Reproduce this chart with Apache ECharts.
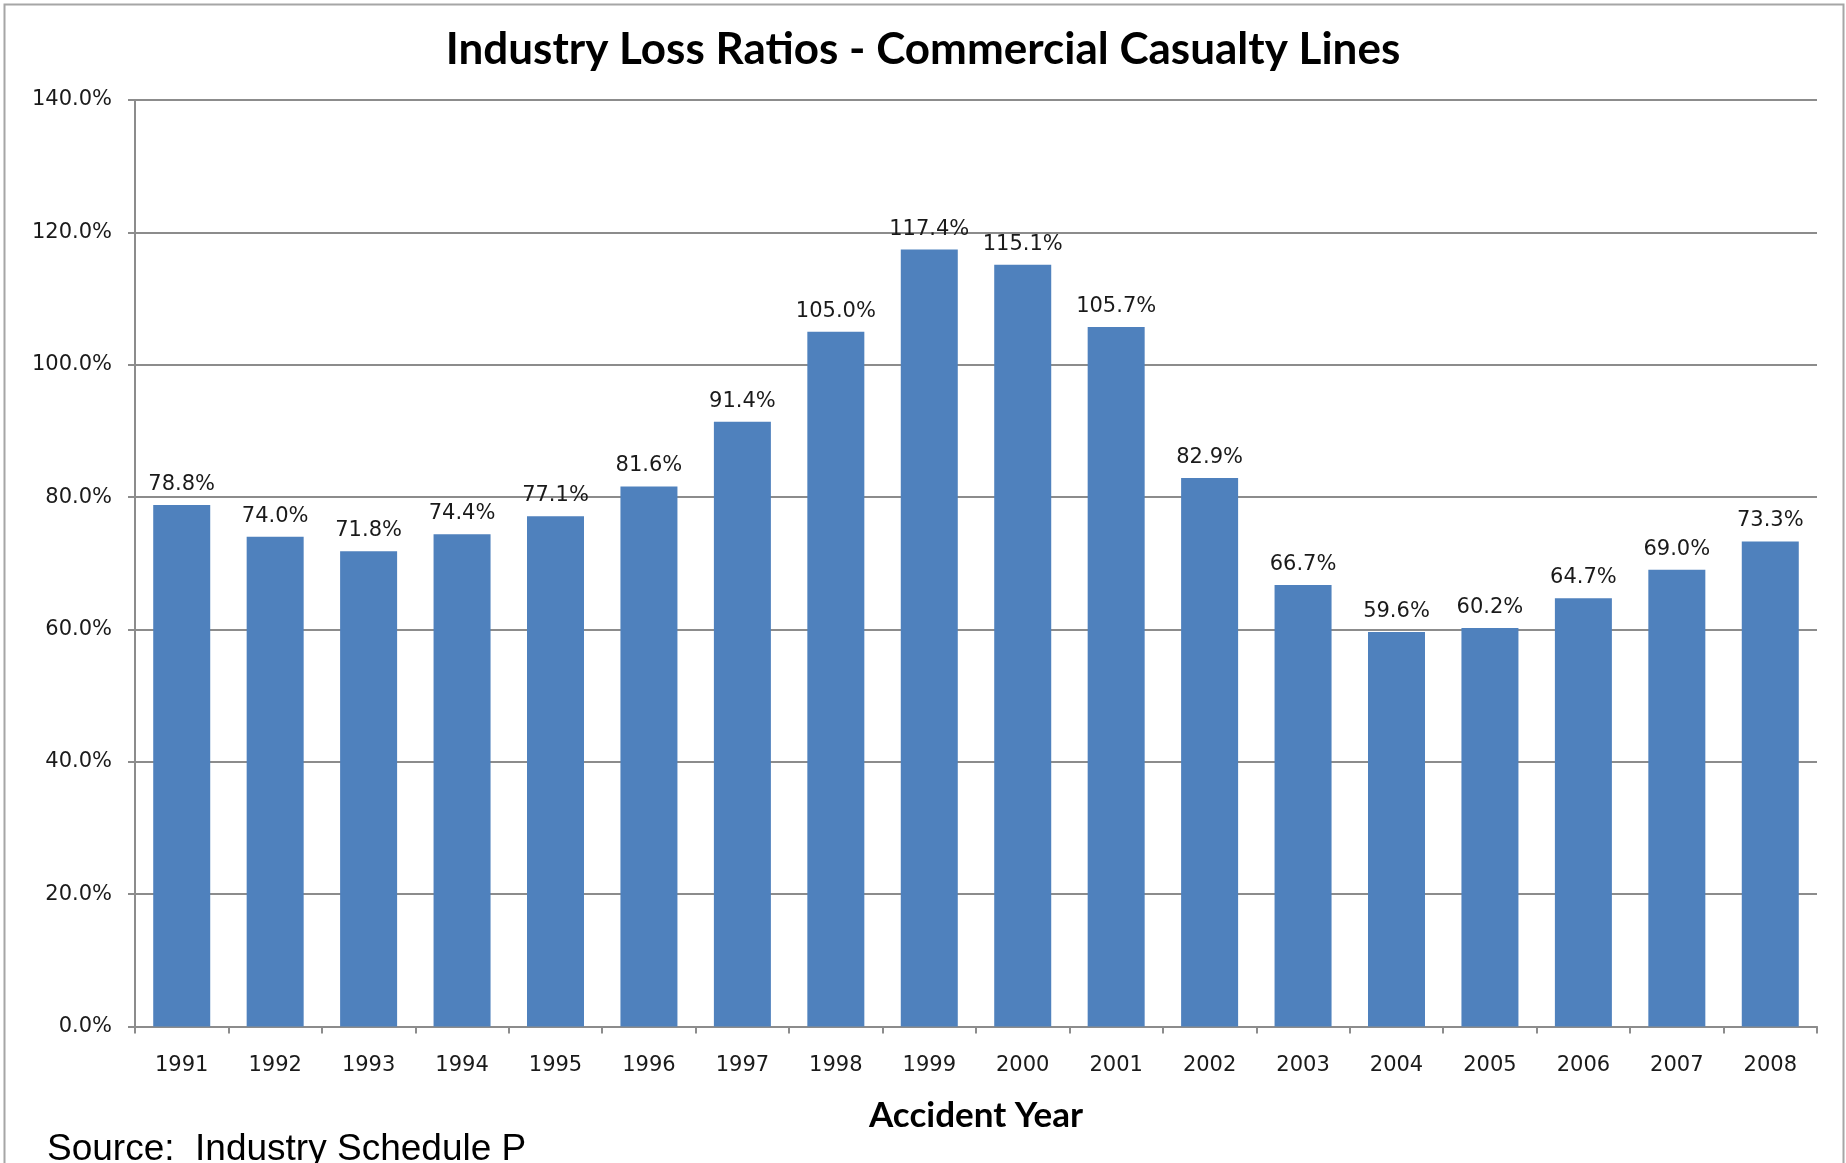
<!DOCTYPE html>
<html>
<head>
<meta charset="utf-8">
<script src="https://cdn.jsdelivr.net/npm/echarts@6/dist/echarts.min.js"></script>
<style>
html,body{margin:0;padding:0;background:#fff;}
#chart{width:1846px;height:1163px;}
</style>
</head>
<body>
<div id="chart"></div>
<script>
const titleText = 'Industry Loss Ratios - Commercial Casualty Lines';
const xAxisTitle = 'Accident Year';
const sourceText = 'Source:  Industry Schedule P';
const years = ['1991','1992','1993','1994','1995','1996','1997','1998','1999','2000','2001','2002','2003','2004','2005','2006','2007','2008'];
const lossRatios = [78.8, 74.0, 71.8, 74.4, 77.1, 81.6, 91.4, 105.0, 117.4, 115.1, 105.7, 82.9, 66.7, 59.6, 60.2, 64.7, 69.0, 73.3];
const yMin = 0, yMax = 140, yStep = 20;

const chart = echarts.init(document.getElementById('chart'), null, {renderer:'canvas'});
const gray = '#8c8c8c';
const tickFont = 'DejaVu Sans';
chart.setOption({
  animation:false,
  backgroundColor:'#fff',
  title:{
    text:titleText,
    left:'center',
    top:23,
    textStyle:{fontFamily:'Lato',fontWeight:'bold',fontSize:44,color:'#000'}
  },
  grid:{left:135,right:29,top:100,bottom:136.5,containLabel:false},
  xAxis:{
    type:'category',
    data:years,
    boundaryGap:true,
    name:xAxisTitle,
    nameLocation:'middle',
    nameGap:72,
    nameTextStyle:{fontFamily:'Lato',fontWeight:'bold',fontSize:35,color:'#000',verticalAlign:'top'},
    axisLine:{show:true,lineStyle:{color:gray,width:2}},
    axisTick:{show:true,length:7,alignWithLabel:false,lineStyle:{color:gray,width:2}},
    axisLabel:{margin:29,fontFamily:tickFont,fontSize:21,color:'#1a1a1a'}
  },
  yAxis:{
    type:'value',
    min:yMin,max:yMax,interval:yStep,
    axisLine:{show:true,lineStyle:{color:gray,width:2}},
    axisTick:{show:true,length:7,lineStyle:{color:gray,width:2}},
    splitLine:{show:true,lineStyle:{color:gray,width:2}},
    axisLabel:{margin:23,fontFamily:tickFont,fontSize:21,color:'#1a1a1a',formatter:v=>v.toFixed(1)+'%'}
  },
  series:[{
    type:'bar',
    data:lossRatios,
    barCategoryGap:'39%',
    itemStyle:{color:'#4F81BD'},
    label:{show:true,position:'top',distance:10,fontFamily:tickFont,fontSize:21,color:'#1a1a1a',formatter:p=>p.value.toFixed(1)+'%'}
  }],
  graphic:[
    {type:'rect',left:2,top:2,shape:{x:0,y:0,width:1839,height:1200},style:{fill:null,stroke:'#a6a6a6',lineWidth:2},silent:true,z:-1},
    {type:'text',left:47,top:1131,style:{text:sourceText,font:'37px "Liberation Sans", Arial, sans-serif',fill:'#000'}}
  ]
});
</script>
</body>
</html>
